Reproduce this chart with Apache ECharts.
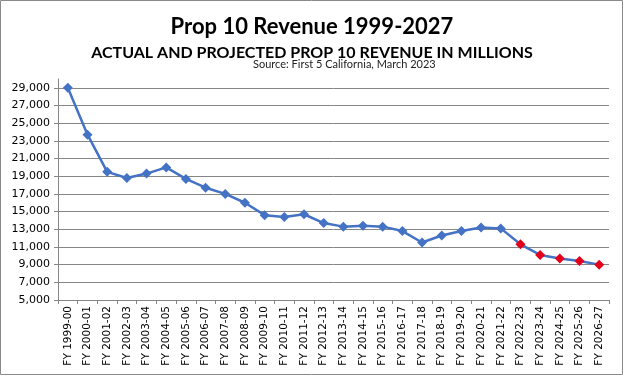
<!DOCTYPE html>
<html><head><meta charset="utf-8">
<script src="https://cdn.jsdelivr.net/npm/echarts@6/dist/echarts.min.js"></script>
<style>html,body{margin:0;padding:0;background:#fff}#c{width:624px;height:376px}</style>
</head><body><div id="c"></div>
<script>
var categories = ["FY 1999-00","FY 2000-01","FY 2001-02","FY 2002-03","FY 2003-04","FY 2004-05","FY 2005-06","FY 2006-07","FY 2007-08","FY 2008-09","FY 2009-10","FY 2010-11","FY 2011-12","FY 2012-13","FY 2013-14","FY 2014-15","FY 2015-16","FY 2016-17","FY 2017-18","FY 2018-19","FY 2019-20","FY 2020-21","FY 2021-22","FY 2022-23","FY 2023-24","FY 2024-25","FY 2025-26","FY 2026-27"];
var revenue = [29000,23700,19500,18800,19300,20000,18700,17700,17000,16000,14600,14400,14700,13700,13300,13400,13300,12800,11500,12300,12800,13200,13100,11300,10100,9700,9400,9000];
var projectedFrom = 23; // index of first projected year
var yTicks = {min:5000, max:30000, interval:2000};

var chart = echarts.init(document.getElementById('c'), null, {renderer:'canvas'});
var data = revenue.map(function(v,i){
  return i >= projectedFrom ? {value:v, itemStyle:{color:'#E3001B'}} : v;
});
chart.setOption({
  animation:false,
  backgroundColor:'#fff',
  graphic:[{type:'rect', shape:{x:0.5,y:0.5,width:622,height:374}, style:{fill:'none', stroke:'#8a8a8a', lineWidth:1}, z:-1}],
  title:[
    {text:'Prop 10 Revenue 1999-2027', left:'center', top:11, textStyle:{fontFamily:'Lato', fontWeight:'bold', fontSize:22, color:'#000'}},
    {text:'ACTUAL AND PROJECTED PROP 10 REVENUE IN MILLIONS', left:'center', top:40, textStyle:{fontFamily:'Lato', fontWeight:'bold', fontSize:16, color:'#000'}},
    {text:'Source: First 5 California, March 2023', left:248, top:54, textStyle:{fontFamily:'Lato', fontWeight:'normal', fontSize:11, color:'#222'}}
  ],
  grid:{left:58, right:15, top:79, bottom:76, containLabel:false},
  xAxis:{
    type:'category', data:categories, boundaryGap:true,
    axisLine:{lineStyle:{color:'#868686', width:1}},
    axisTick:{show:true, alignWithLabel:false, length:4, lineStyle:{color:'#868686'}},
    axisLabel:{rotate:90, interval:0, margin:6, fontFamily:'DejaVu Sans', fontSize:10.5, color:'#000'},
    splitLine:{show:false}
  },
  yAxis:{
    type:'value', min:yTicks.min, max:yTicks.max, interval:yTicks.interval,
    axisLine:{show:true, lineStyle:{color:'#868686', width:1}},
    axisTick:{show:true, length:4, lineStyle:{color:'#868686'}},
    axisLabel:{showMaxLabel:false, margin:8, fontFamily:'DejaVu Sans', fontSize:11, color:'#000',
      formatter:function(v){return v.toLocaleString('en-US');}},
    splitLine:{show:true, showMaxLine:false, lineStyle:{color:'#868686', width:1}}
  },
  series:[{
    type:'line', data:data, symbol:'diamond', symbolSize:10,
    lineStyle:{color:'#4472C4', width:2.5},
    itemStyle:{color:'#4472C4'}
  }]
});
</script></body></html>
